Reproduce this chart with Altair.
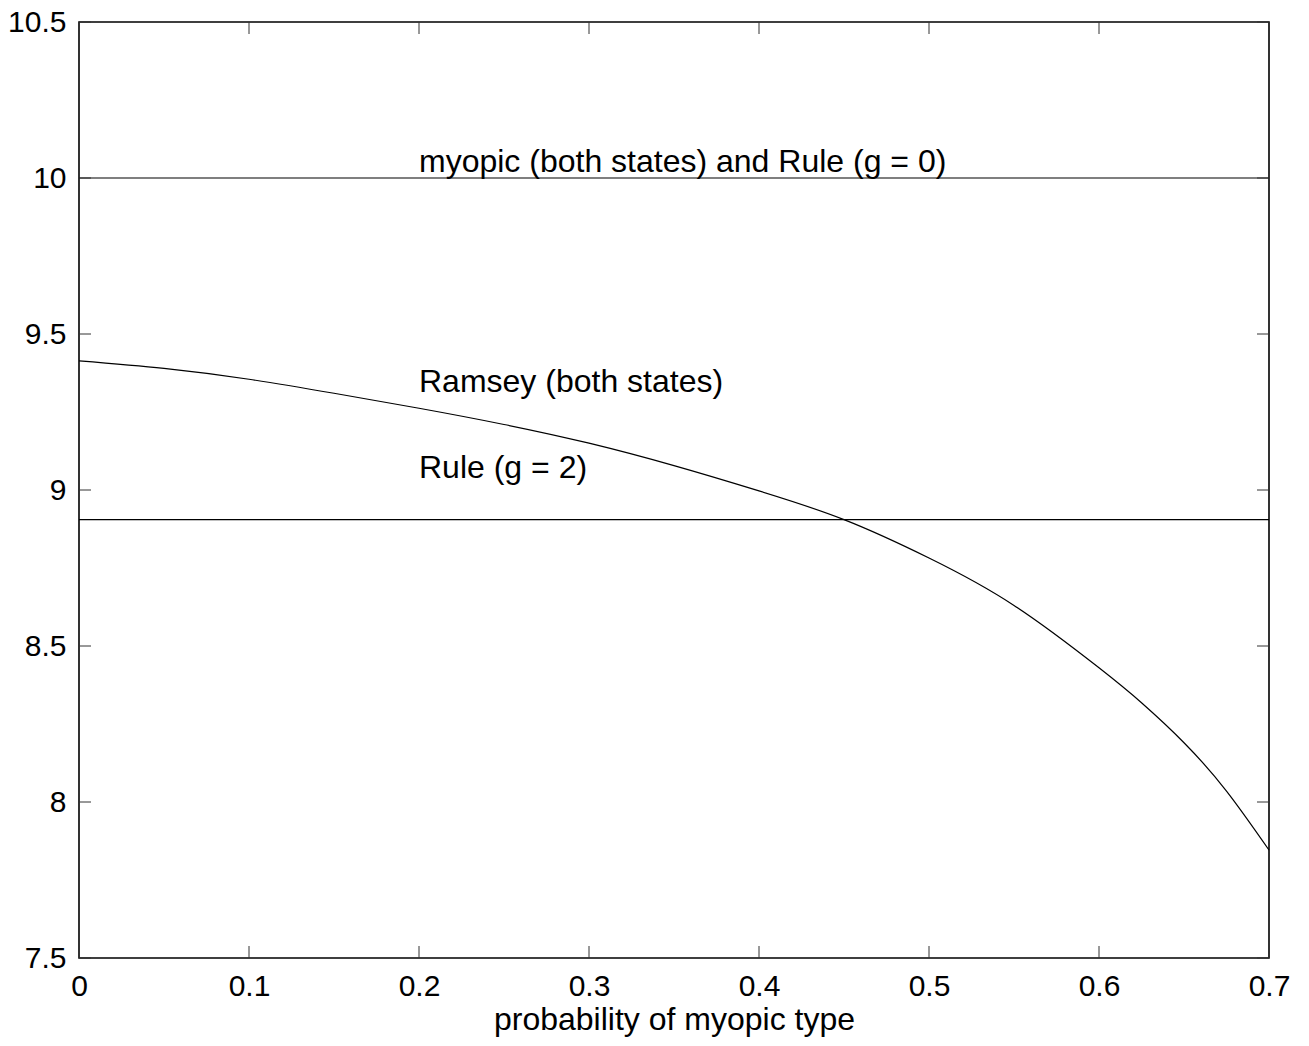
import altair as alt
import pandas as pd

# ---- data ----
prob = [0.0, 0.05, 0.1, 0.15, 0.2, 0.25, 0.3, 0.35, 0.4, 0.45, 0.5, 0.55, 0.6, 0.625, 0.65, 0.675, 0.7]
ramsey = [9.414, 9.390, 9.355, 9.310, 9.262, 9.210, 9.150, 9.078, 8.997, 8.905, 8.782, 8.630, 8.430, 8.318, 8.190, 8.035, 7.846]
rule_levels = [10.0, 8.905]
label_text = ["myopic (both states) and Rule (g = 0)", "Ramsey (both states)", "Rule (g = 2)"]
label_x = [0.2, 0.2, 0.2]
label_y = [10.02, 9.314, 9.037]
x_ticks = [0, 0.1, 0.2, 0.3, 0.4, 0.5, 0.6, 0.7]
y_ticks = [7.5, 8, 8.5, 9, 9.5, 10, 10.5]

W, H = 1190, 936
TICK = 12
FONT = "Liberation Sans"
FS = 32

xs = alt.Scale(domain=[0, 0.7], nice=False, zero=False)
ys = alt.Scale(domain=[7.5, 10.5], nice=False, zero=False)

curve_df = pd.DataFrame({"p": prob, "w": ramsey})
rules_df = pd.DataFrame({"v": rule_levels})
lab_df = pd.DataFrame({"t": label_text, "x": label_x, "y": label_y})
xt_df = pd.DataFrame({"v": x_ticks})
yt_df = pd.DataFrame({"v": y_ticks})

x_axis = alt.Axis(values=x_ticks, format="~g", ticks=False, domain=False, grid=False,
                  labelFontSize=30, labelFont=FONT, labelColor="black", labelPadding=13,
                  labelFlush=False,
                  title="probability of myopic type", titleFont=FONT, titleFontSize=FS,
                  titleFontWeight="normal", titleColor="black", titlePadding=3)
y_axis = alt.Axis(values=y_ticks, format="~g", ticks=False, domain=False, grid=False,
                  labelFontSize=30, labelFont=FONT, labelColor="black", labelPadding=13,
                  labelFlush=False, title=None)

curve = alt.Chart(curve_df).mark_line(color="black", strokeWidth=1.2, interpolate="natural").encode(
    x=alt.X("p:Q", scale=xs, axis=x_axis),
    y=alt.Y("w:Q", scale=ys, axis=y_axis),
)

hlines = alt.Chart(rules_df).mark_rule(color="black", strokeWidth=1.2).encode(
    y=alt.Y("v:Q", scale=ys)
)

labels = alt.Chart(lab_df).mark_text(align="left", baseline="alphabetic", font=FONT,
                                     fontSize=FS, color="black").encode(
    x=alt.X("x:Q", scale=xs), y=alt.Y("y:Q", scale=ys), text="t:N"
)

tick_style = dict(color="#333333", strokeWidth=1)
bottom_t = alt.Chart(xt_df).mark_rule(**tick_style).encode(
    x=alt.X("v:Q", scale=xs), y=alt.value(H), y2=alt.value(H - TICK))
top_t = alt.Chart(xt_df).mark_rule(**tick_style).encode(
    x=alt.X("v:Q", scale=xs), y=alt.value(0), y2=alt.value(TICK))
left_t = alt.Chart(yt_df).mark_rule(**tick_style).encode(
    y=alt.Y("v:Q", scale=ys), x=alt.value(0), x2=alt.value(TICK))
right_t = alt.Chart(yt_df).mark_rule(**tick_style).encode(
    y=alt.Y("v:Q", scale=ys), x=alt.value(W - TICK), x2=alt.value(W))

chart = alt.layer(curve, hlines, labels, bottom_t, top_t, left_t, right_t).properties(
    width=W, height=H,
    autosize=alt.AutoSizeParams(type="none"),
    padding={"left": 71, "top": 14, "right": 32, "bottom": 80},
    background="white",
).configure_view(stroke="black", strokeWidth=1.6)

chart.save("out.html", embed_options={"renderer": "svg", "actions": False})
